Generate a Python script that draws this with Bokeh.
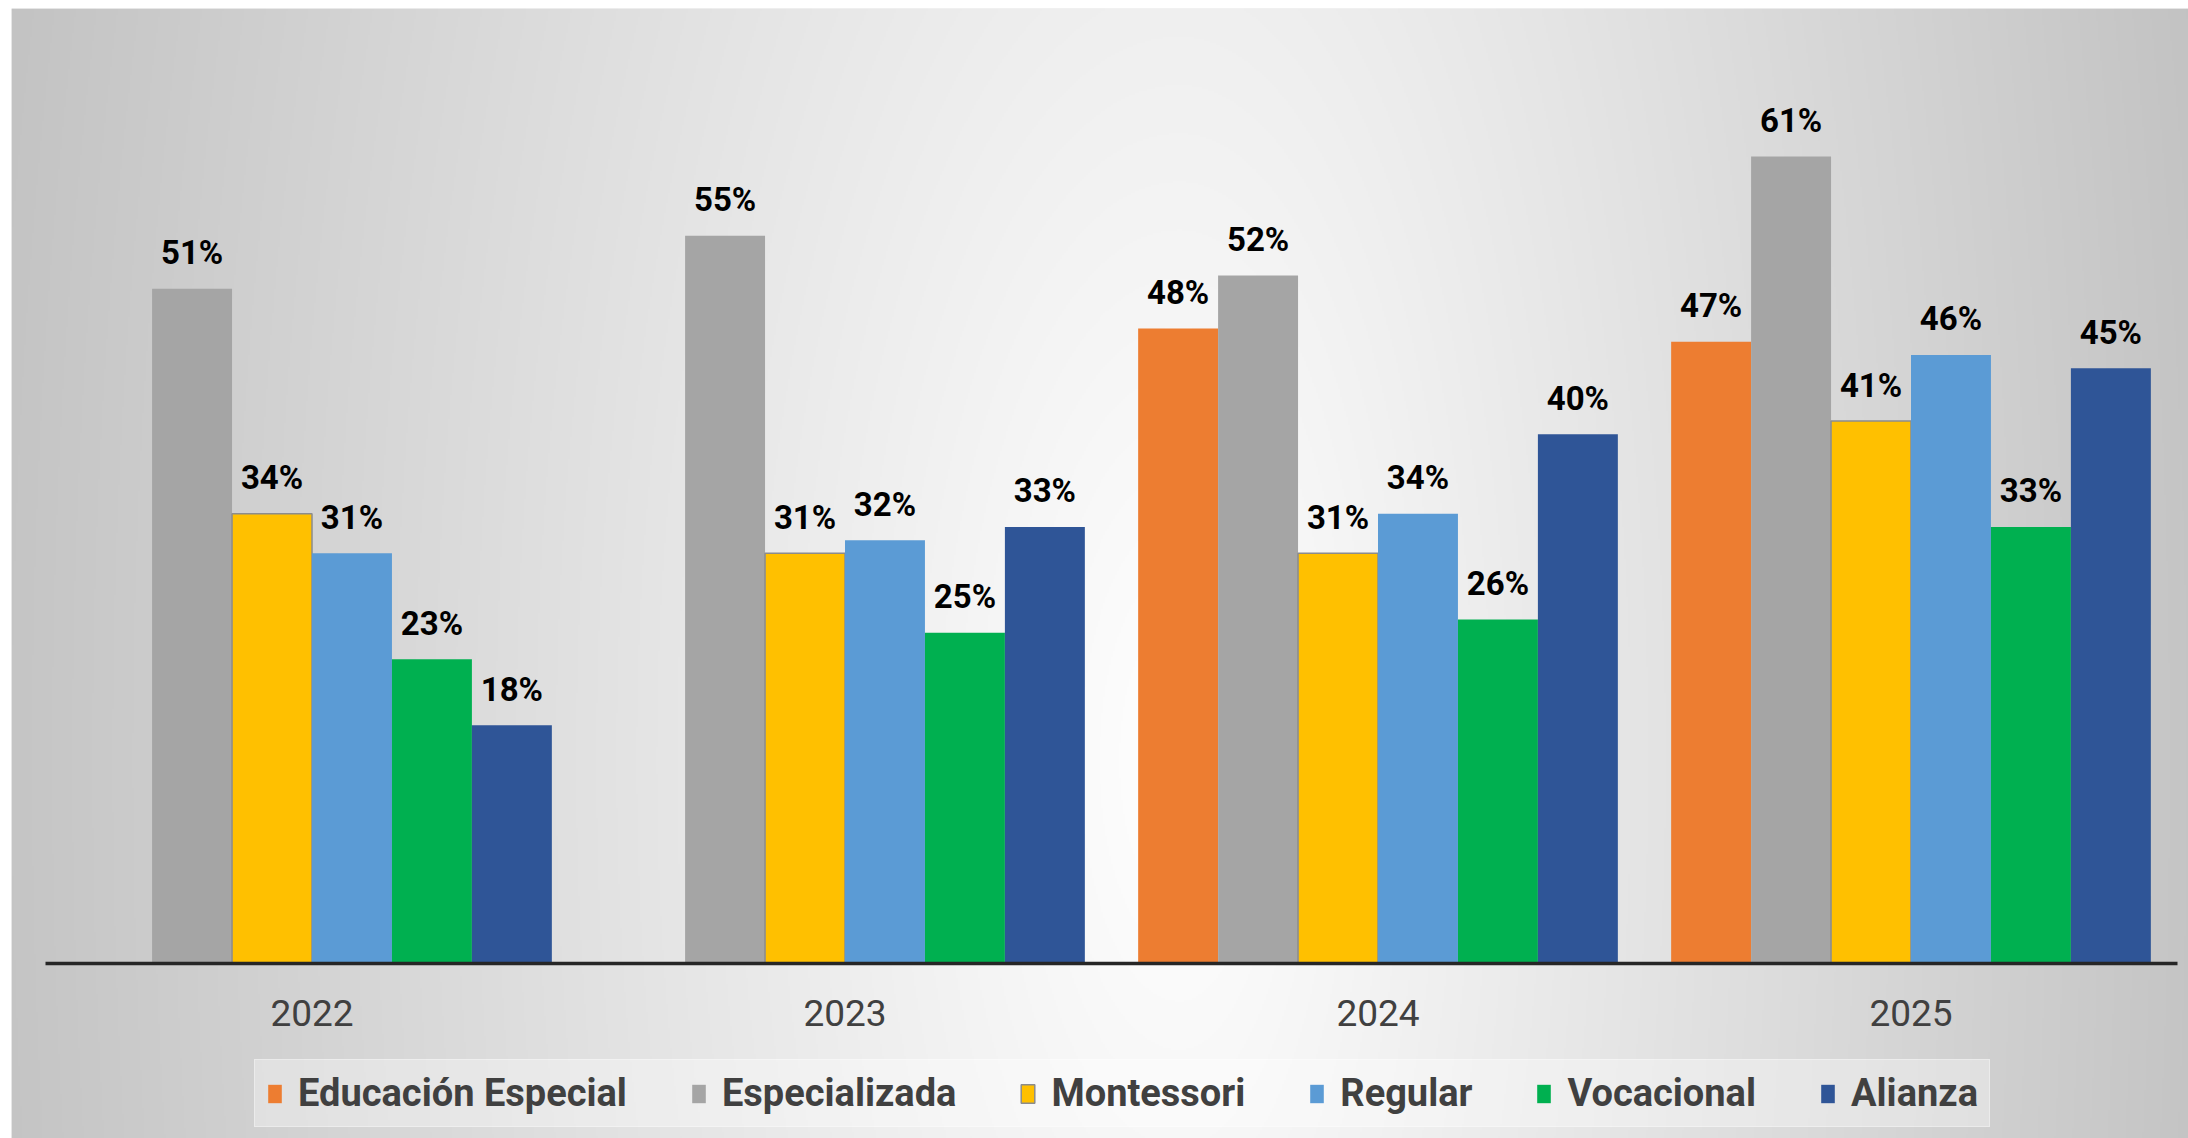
import numpy as np
from bokeh.plotting import figure
from bokeh.models import Range1d, FixedTicker, Legend, LegendItem, ColumnDataSource
from bokeh.embed import file_html
from bokeh.resources import INLINE
from bokeh.core.properties import value

# ---- data ----
years = ["2022", "2023", "2024", "2025"]
series = ["Educación Especial", "Especializada", "Montessori", "Regular", "Vocacional", "Alianza"]
educacion_especial = [None, None, 48, 47]
especializada = [51, 55, 52, 61]
montessori = [34, 31, 31, 41]
regular = [31, 32, 34, 46]
vocacional = [23, 25, 26, 33]
alianza = [18, 33, 40, 45]
values = [educacion_especial, especializada, montessori, regular, vocacional, alianza]
colors = ["#ED7D31", "#A5A5A5", "#FFC000", "#5B9BD5", "#00B050", "#2F5597"]

FONT = "Roboto"
W, H = 2188, 1138
BL, BT = 11, 8            # white border left / top
FW, FH = W - BL, H - BT    # frame size
PX_PER_UNIT_X = 533.0
PX_PER_PCT = 13.23
AXIS_Y = 963.0 - BT        # in frame pixels from top
X0 = 45.0 - BL             # in frame pixels from left

x_start = -X0 / PX_PER_UNIT_X
x_end = (FW - X0) / PX_PER_UNIT_X
y_end = AXIS_Y / PX_PER_PCT
y_start = -(FH - AXIS_Y) / PX_PER_PCT

p = figure(width=W, height=H, x_range=Range1d(x_start, x_end), y_range=Range1d(y_start, y_end),
           output_backend="svg", toolbar_location=None,
           min_border_left=BL, min_border_top=BT, min_border_right=0, min_border_bottom=0,
           y_axis_location=None, x_axis_location="below")
p.outline_line_color = None
p.xgrid.visible = False
p.ygrid.visible = False
p.border_fill_color = "white"
p.background_fill_color = "#e6e6e6"

# ---- background radial gradient ----
nx, ny = (FW + 1) // 2, (FH + 1) // 2
px = BL + (np.arange(nx) + 0.5) * 2
py = BT + FH - (np.arange(ny) + 0.5) * 2
PX, PY = np.meshgrid(px, py)
cx, cy = 1180.0, 760.0
ax = np.where(PX < cx, cx - BL, W - cx)
dx = (PX - cx) / ax
dy = (PY - cy) / 2800.0
d = np.sqrt(dx ** 2 + dy ** 2)
c = np.clip(255 - 58 * d, 0, 255).astype(np.uint32)
img = (255 << 24) | (c << 16) | (c << 8) | c
p.image_rgba(image=[img.astype(np.uint32)], x=x_start, y=y_start,
             dw=x_end - x_start, dh=y_end - y_start, level="image")

# ---- bars ----
bar_w = 0.15
legend_items = []
lx, ly, lt = [], [], []
for j, (name, vals, col) in enumerate(zip(series, values, colors)):
    xs, tops = [], []
    for i, v in enumerate(vals):
        if v is None:
            continue
        xs.append(i + 0.5 + (j - 2.5) * bar_w)
        tops.append(v)
    src = ColumnDataSource(dict(x=xs, top=tops))
    if name == "Montessori":
        r = p.vbar(x="x", top="top", bottom=0, width=bar_w, source=src,
                   fill_color=col, line_color="#8c8c8c", line_width=1.5)
    else:
        r = p.vbar(x="x", top="top", bottom=0, width=bar_w, source=src,
                   fill_color=col, line_color=None)
    legend_items.append(LegendItem(label=name, renderers=[r]))
    lx += xs
    ly += tops
    lt += [f"{v}%" for v in tops]

lab_src = ColumnDataSource(dict(x=lx, y=ly, t=lt))
p.text(x="x", y="y", text="t", source=lab_src, text_align="center",
       text_baseline="alphabetic", y_offset=-36,
       text_font=value(FONT), text_font_style="bold",
       text_font_size="33px", text_color="#000000")

# ---- x axis ----
xa = p.xaxis[0]
xa.fixed_location = 0
xa.bounds = (0, 4)
xa.ticker = FixedTicker(ticks=[i + 0.5 for i in range(len(years))])
xa.major_label_overrides = {i + 0.5: y for i, y in enumerate(years)}
xa.axis_line_color = "#262626"
xa.axis_line_width = 3.5
xa.major_tick_line_color = None
xa.minor_tick_line_color = None
xa.major_label_standoff = 30
xa.major_label_text_font = FONT
xa.major_label_text_font_size = "37px"
xa.major_label_text_color = "#404040"

# ---- legend ----
legend = Legend(items=legend_items, orientation="horizontal", location=(243, 11),
                glyph_width=17, glyph_height=23, label_standoff=15, spacing=63,
                padding=11, margin=0, label_height=37,
                label_text_font=FONT, label_text_font_style="bold",
                label_text_font_size="38px", label_text_color="#404040",
                background_fill_color="white", background_fill_alpha=0.35,
                border_line_color="white", border_line_alpha=0.35, border_line_width=1)
p.add_layout(legend, "center")

open("out.html", "w").write(file_html(p, INLINE))
